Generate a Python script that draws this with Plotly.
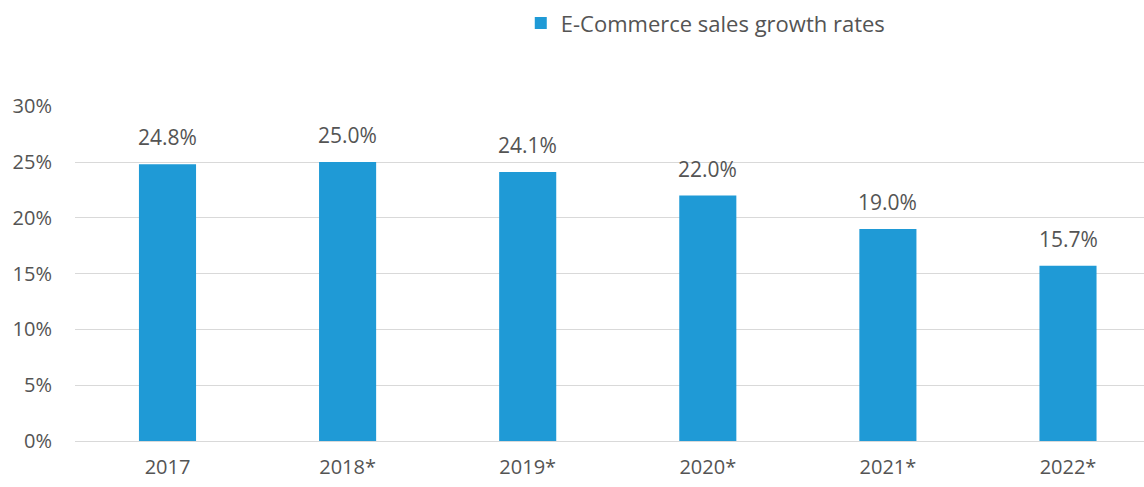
import plotly.graph_objects as go

years = ["2017", "2018*", "2019*", "2020*", "2021*", "2022*"]
growth = [24.8, 25.0, 24.1, 22.0, 19.0, 15.7]
series_name = "E-Commerce sales growth rates"
y_ticks = [0, 5, 10, 15, 20, 25, 30]
y_tick_labels = [f"{v}%" for v in y_ticks]

BAR_COLOR = "#1f9ad6"
TEXT_COLOR = "#545454"
GRID_COLOR = "#d9d9d9"
FONT = "Open Sans"

fig = go.Figure(
    go.Bar(
        x=years,
        y=growth,
        name=series_name,
        marker=dict(color=BAR_COLOR, line=dict(width=0)),
        showlegend=True,
    )
)

# value labels above each bar (category axis: x given by category index)
for i, v in enumerate(growth):
    fig.add_annotation(
        x=i,
        y=v,
        xref="x",
        yref="y",
        text=f"{v:.1f}%",
        showarrow=False,
        xanchor="center",
        yanchor="bottom",
        yshift=11,
        font=dict(family=FONT, size=21, color=TEXT_COLOR),
    )

fig.update_layout(
    width=1144,
    height=487,
    margin=dict(l=75, r=0, t=106, b=46),
    paper_bgcolor="white",
    plot_bgcolor="white",
    bargap=0.683,
    font=dict(family=FONT, size=20, color=TEXT_COLOR),
    showlegend=True,
    legend=dict(
        orientation="h",
        x=0.417,
        xanchor="left",
        y=1.31,
        yanchor="top",
        font=dict(family=FONT, size=22, color=TEXT_COLOR),
        itemwidth=30,
    ),
    xaxis=dict(
        type="category",
        range=[-0.5136, 5.422],
        showgrid=False,
        showline=False,
        ticks="",
        ticklabelstandoff=12,
        tickfont=dict(family=FONT, size=20, color=TEXT_COLOR),
    ),
    yaxis=dict(
        range=[0, 30.02],
        tickvals=y_ticks,
        ticktext=y_tick_labels,
        showgrid=True,
        gridcolor=GRID_COLOR,
        gridwidth=1,
        zeroline=True,
        zerolinecolor=GRID_COLOR,
        zerolinewidth=1,
        showline=False,
        ticks="",
        ticklabelstandoff=22,
        tickfont=dict(family=FONT, size=20, color=TEXT_COLOR),
    ),
)

fig.write_html("out.html")
